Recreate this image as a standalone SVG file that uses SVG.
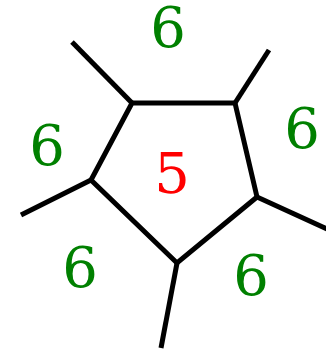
<svg xmlns="http://www.w3.org/2000/svg" width="326" height="350" viewBox="0 0 326 350">
<style>
.b{stroke:#000;stroke-width:5;fill:none;stroke-linejoin:miter}
.t{font-family:"DejaVu Serif",serif;font-size:56px;text-anchor:middle}
.g{fill:#008000}
.r{fill:#ff0000}
</style>
<rect width="326" height="350" fill="#fff"/>
<g id="connectors">
<polygon class="b" points="132,103 235,103 257,197 177,263 91,180"/>
<line class="b" x1="132" y1="103" x2="72" y2="42"/>
<line class="b" x1="235" y1="103" x2="269" y2="50"/>
<line class="b" x1="257" y1="197" x2="327" y2="229"/>
<line class="b" x1="177" y1="263" x2="161" y2="348"/>
<line class="b" x1="91" y1="180" x2="21" y2="215"/>
</g>
<g id="n1"><text class="t g" x="168" y="47">6</text></g>
<g id="n2"><text class="t g" x="47" y="165">6</text></g>
<g id="n3"><text class="t g" x="302" y="148">6</text></g>
<g id="n4"><text class="t g" x="80" y="287">6</text></g>
<g id="n5"><text class="t g" x="251" y="295">6</text></g>
<g id="n6"><text class="t r" x="172" y="193">5</text></g>
</svg>
